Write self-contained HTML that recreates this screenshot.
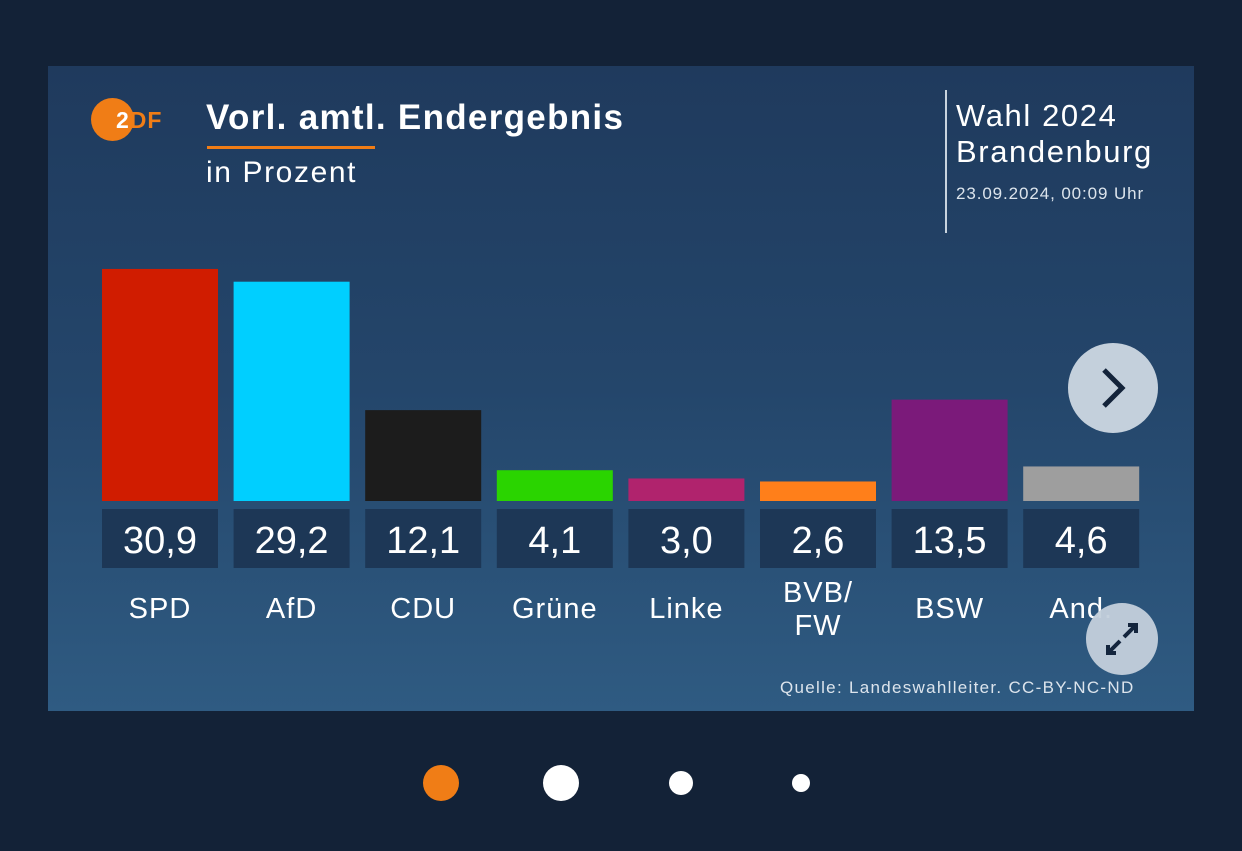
<!DOCTYPE html>
<html><head><meta charset="utf-8"><style>
body{margin:0;width:1242px;height:851px;background:#132237;font-family:"Liberation Sans",sans-serif;overflow:hidden;position:relative}
#panel{position:absolute;left:48px;top:66px;width:1146px;height:645px;background:linear-gradient(180deg,#1f3a5d 0%,#24466b 50%,#2f5b82 100%)}
.abs{position:absolute;white-space:nowrap}
</style></head><body>
<div id="panel">
<div class="abs" style="left:43px;top:32px;width:43px;height:43px;border-radius:50%;background:#f07d16"></div>
<div class="abs" style="left:68px;top:41px;font-size:23px;font-weight:bold;color:#f07d16;letter-spacing:1px"><span style="color:#fff">2</span>DF</div>
<div class="abs" style="left:158px;top:32px;font-size:35px;font-weight:bold;color:#fff;letter-spacing:1.3px">Vorl. amtl. Endergebnis</div>
<div class="abs" style="left:159px;top:80px;width:168px;height:3px;background:#f07d16"></div>
<div class="abs" style="left:158px;top:90px;font-size:30px;color:#fff;letter-spacing:1.6px">in Prozent</div>
<div class="abs" style="left:897px;top:24px;width:2px;height:143px;background:#c8d3de"></div>
<div class="abs" style="left:908px;top:32px;font-size:31px;color:#fff;line-height:36px;letter-spacing:1.6px">Wahl 2024<br>Brandenburg</div>
<div class="abs" style="left:908px;top:118px;font-size:17px;color:#dce4ec;letter-spacing:0.9px">23.09.2024, 00:09 Uhr</div>
<svg id="chart" class="abs" style="left:0;top:0" width="1146" height="645"></svg>
<div class="abs" style="left:1020px;top:277px;width:90px;height:90px;border-radius:50%;background:#c4d0dc">
<svg width="90" height="90"><path d="M36 27 L54 45 L36 63" stroke="#13233a" stroke-width="5" fill="none"/></svg></div>
<div class="abs" style="left:1038px;top:537px;width:72px;height:72px;border-radius:50%;background:#c4d0dc;opacity:.95">
<svg width="72" height="72"><path d="M38 34 L50 22 M42 22 H50 V30 M34 38 L22 50 M22 42 V50 H30" stroke="#13233a" stroke-width="4" fill="none"/></svg></div>
<div class="abs" style="left:732px;top:612px;font-size:17px;color:#dce4ec;letter-spacing:1.3px">Quelle: Landeswahlleiter. CC-BY-NC-ND</div>
</div>
<div class="abs" style="left:423px;top:765px;width:36px;height:36px;border-radius:50%;background:#f07d16"></div>
<div class="abs" style="left:543px;top:765px;width:36px;height:36px;border-radius:50%;background:#fff"></div>
<div class="abs" style="left:669px;top:771px;width:24px;height:24px;border-radius:50%;background:#fff"></div>
<div class="abs" style="left:792px;top:774px;width:18px;height:18px;border-radius:50%;background:#fff"></div>
<script>
const parties=["SPD","AfD","CDU","Grüne","Linke","BVB/\nFW","BSW","And."];
const values=[30.9,29.2,12.1,4.1,3.0,2.6,13.5,4.6];
const colors=["#d01c00","#00cfff","#1c1c1c","#2ad400","#b0236d","#ff7f1a","#7b1a7a","#9e9e9e"];
const NS="http://www.w3.org/2000/svg";
const svg=document.getElementById('chart');
const base=435, scale=7.51, x0=54, step=131.6, bw=116;
const x=i=>x0+i*step, h=v=>v*scale;
function mk(t,a){const e=document.createElementNS(NS,t);for(const k in a)e.setAttribute(k,a[k]);svg.appendChild(e);return e;}
values.forEach((v,i)=>{
 const r=mk('rect',{x:x(i),y:base-h(v),width:bw,height:h(v),fill:colors[i]});
 
 
 const b=mk('rect',{x:x(i),y:base+8,width:bw,height:59,fill:'#1d3756'});
 
 
 const t=mk('text',{x:x(i)+bw/2,y:base+52,'text-anchor':'middle','font-size':38,fill:'#fff','font-family':'Liberation Sans'});
 t.textContent=v.toFixed(1).replace('.',',');
 
 
 const lines=parties[i].split('\n');
 lines.forEach((ln,j)=>{
  const l=mk('text',{x:x(i)+bw/2,y:(lines.length>1?base+101:base+117)+j*33,'text-anchor':'middle','font-size':29,fill:'#fff','font-family':'Liberation Sans','letter-spacing':1});
  l.textContent=ln;
  
  
 });
});
</script>
</body></html>
